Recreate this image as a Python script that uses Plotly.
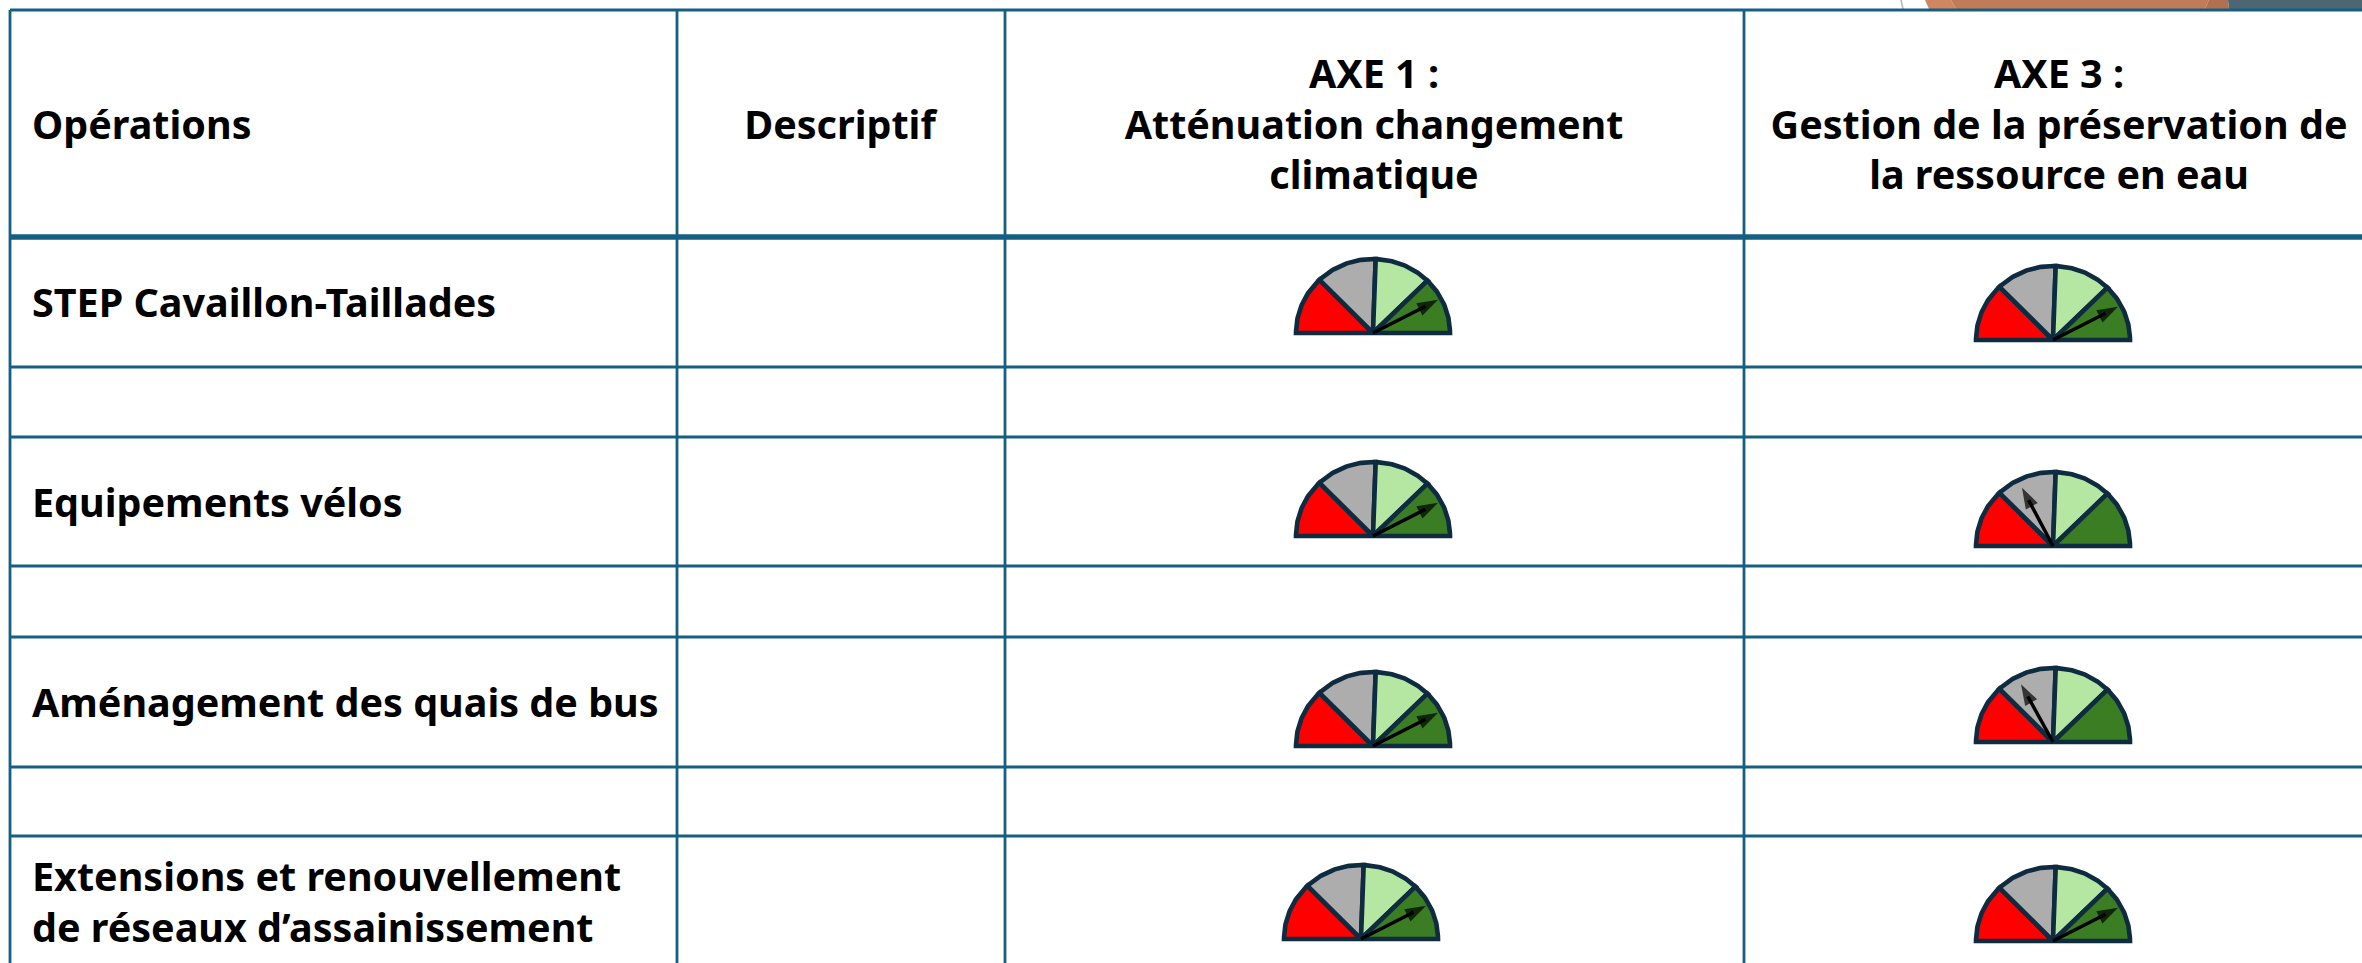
import numpy as np
import plotly.graph_objects as go

# ---- data ----
operations = ["STEP Cavaillon-Taillades", "", "Equipements vélos", "", "Aménagement des quais de bus", "",
              "Extensions et renouvellement", "de réseaux d’assainissement"]
headers = ["Opérations", "Descriptif"]
axe1_header = ["AXE 1 :", "Atténuation changement", "climatique"]
axe3_header = ["AXE 3 :", "Gestion de la préservation de", "la ressource en eau"]
sector_edges = [180, 134, 88, 45, 0]
sector_colors = ["#ff0000", "#adadad", "#b5e6a2", "#3b7d23"]
needle_angle_axe1 = [27, 27, 27, 27]
needle_angle_axe3 = [27, 118, 119, 27]
needle_len_axe1 = [73, 73, 73, 73]
needle_len_axe3 = [73, 66, 66, 73]

# ---- layout constants (pixels) ----
W, H = 2362, 963
COLS = [10, 677, 1005, 1744]
ROWS = [237, 367, 437, 566, 637, 767, 836]
TOP = 10
LINE = "#156082"
DARK = "#0e2b40"
FONT = dict(family="Noto Sans", size=39.5, color="#000000", weight=700)
AXE1_POS = [(1373, 333), (1373, 536), (1373, 746), (1361, 939)]
AXE3_POS = [(2053, 340), (2053, 546), (2053, 742), (2053, 941)]
RX, RY = 77, 74

fig = go.Figure()
shapes = []


def poly(pts, c):
    path = "M " + " L ".join(f"{x} {y}" for x, y in pts) + " Z"
    shapes.append(dict(type="path", path=path, fillcolor=c, line_width=0, layer="below"))


def seg(x0, y0, x1, y1, w=2.8, c=LINE):
    shapes.append(dict(type="line", x0=x0, y0=y0, x1=x1, y1=y1, line=dict(color=c, width=w), layer="below"))


# top-right decoration peeking above the table
poly([(1925, 0), (1929, 9), (1956, 9), (1951, 0)], "#d08660")
poly([(1951, 0), (1956, 9), (2205, 9), (2209, 0)], "#c27b57")
poly([(2209, 0), (2205, 9), (2229, 9), (2228, 0)], "#b37050")
poly([(2228, 0), (2229, 9), (2362, 9), (2362, 0)], "#4d6672")
seg(1901, 0, 1903, 9, 1.5, "#b5b5b5")

seg(COLS[0], TOP, W, TOP)
for y in ROWS:
    seg(COLS[0], y, W, y, 5.5 if y == ROWS[0] else 2.8)
for x in COLS:
    seg(x, TOP, x, H)
fig.update_layout(shapes=shapes)


def gauge(cx, cy, needle_angle, needle_len):
    for a0, a1, col in zip(sector_edges[:-1], sector_edges[1:], sector_colors):
        t = np.radians(np.linspace(a0, a1, 40))
        xs = np.r_[cx, cx + RX * np.cos(t), cx]
        ys = np.r_[cy, cy - RY * np.sin(t), cy]
        fig.add_trace(go.Scatter(x=xs, y=ys, mode="lines", fill="toself", fillcolor=col,
                                 line=dict(color=DARK, width=4.6), hoverinfo="skip"))
    th = np.radians(needle_angle)
    tipx, tipy = cx + needle_len * np.cos(th), cy - needle_len * np.sin(th)
    stemx, stemy = cx + (needle_len - 14) * np.cos(th), cy - (needle_len - 14) * np.sin(th)
    fig.add_trace(go.Scatter(x=[cx, stemx], y=[cy, stemy], mode="lines",
                             line=dict(color="#000000", width=3.5), hoverinfo="skip"))
    fig.add_trace(go.Scatter(x=[cx, tipx], y=[cy, tipy], mode="markers",
                             marker=dict(symbol="arrow", size=[0, 22], color="#000000", angleref="previous",
                                         line_width=0), hoverinfo="skip"))


for (cx, cy), a, l in zip(AXE1_POS, needle_angle_axe1, needle_len_axe1):
    gauge(cx, cy, a, l)
for (cx, cy), a, l in zip(AXE3_POS, needle_angle_axe3, needle_len_axe3):
    gauge(cx, cy, a, l)

# left column text
op_y = [307, None, 507, None, 707, None, 881, 932]
left_t = [headers[0]] + [o for o in operations if o]
left_y = [129] + [y for y in op_y if y is not None]
fig.add_trace(go.Scatter(x=[32] * len(left_t), y=left_y, text=left_t, mode="text", textposition="middle right",
                         textfont=FONT, hoverinfo="skip"))
# centered headers
hdr_t = [headers[1]] + axe1_header + axe3_header
hdr_x = [840, 1374, 1374, 1374, 2059, 2059, 2059]
hdr_y = [129, 78, 129, 179, 78, 129, 179]
fig.add_trace(go.Scatter(x=hdr_x, y=hdr_y, text=hdr_t, mode="text", textposition="middle center",
                         textfont=FONT, hoverinfo="skip", cliponaxis=False))

fig.update_layout(width=W, height=H, margin=dict(l=0, r=0, t=0, b=0), showlegend=False,
                  paper_bgcolor="#ffffff", plot_bgcolor="#ffffff",
                  xaxis=dict(range=[0, W], visible=False, fixedrange=True),
                  yaxis=dict(range=[H, 0], visible=False, fixedrange=True))
fig.write_html("out.html", config=dict(displayModeBar=False),
               post_script="document.body.style.margin='0';document.documentElement.style.overflow='hidden';")
